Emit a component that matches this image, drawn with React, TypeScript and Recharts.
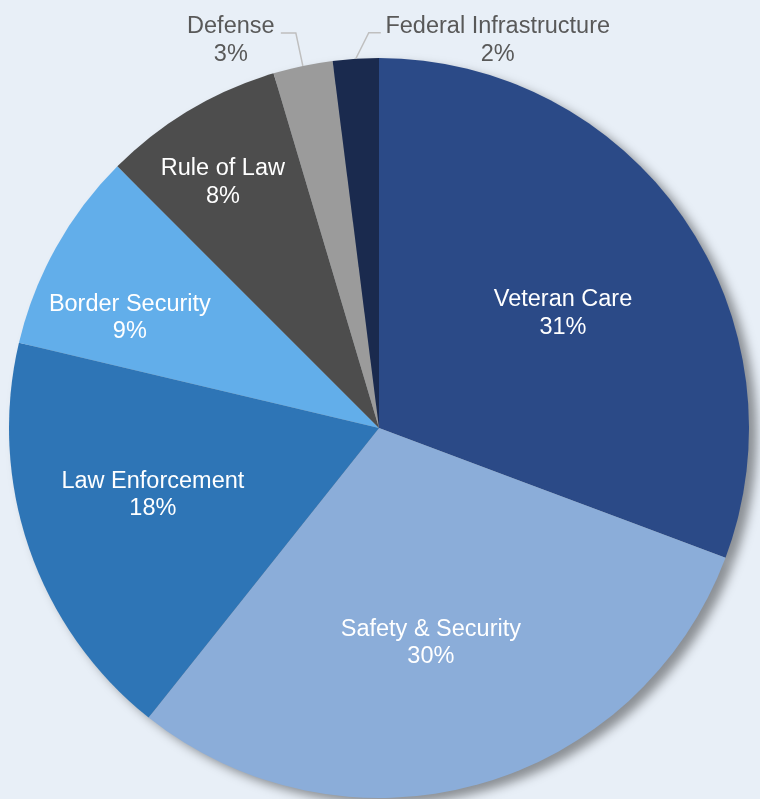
import { PieChart, Pie, Cell } from "recharts";

const categories = [
  "Veteran Care",
  "Safety & Security",
  "Law Enforcement",
  "Border Security",
  "Rule of Law",
  "Defense",
  "Federal Infrastructure",
];
const shares = [30.7, 30.0, 18.0, 8.8, 7.9, 2.6, 2.0];
const colors = ["#2B4A87", "#8BADD9", "#2E75B6", "#62AEEA", "#4D4D4D", "#9B9B9B", "#1A2A4E"];

const data = categories.map((name, i) => ({ name, value: shares[i] }));

const CX = 379;
const CY = 428;
const R = 370;
const FONT = "'Liberation Sans', Arial, sans-serif";
const FS = 23.5;
const RAD = Math.PI / 180;

// inside labels: radius factor + angle tweak (deg, clockwise)
const insideLayout: Record<number, { r: number; da: number }> = {
  0: { r: 0.588, da: 2.5 },
  1: { r: 0.593, da: 1.8 },
  2: { r: 0.636, da: 3.0 },
  3: { r: 0.738, da: -5.0 },
  4: { r: 0.79, da: -1.5 },
};
// outside labels: offsets from the edge point
const outsideLayout: Record<number, { lx: number; ly: number; ex: number; ey: number; tx: number; ty: number }> = {
  5: { lx: -72, ly: -27, ex: -7, ey: -33, tx: -22, ty: -33 },
  6: { lx: 142, ly: -20, ex: 13, ey: -26, tx: 25, ty: -26 },
};

function twoLines(x: number, y: number, a: string, b: string, fill: string) {
  return (
    <text x={x} textAnchor="middle" fill={fill} fontFamily={FONT} fontSize={FS}>
      <tspan x={x} y={y - 5.5}>{a}</tspan>
      <tspan x={x} y={y + 22}>{b}</tspan>
    </text>
  );
}

const renderLabel = (props: any) => {
  const { midAngle, index, name, percent } = props;
  const pct = `${Math.round(percent * 100)}%`;
  const inside = insideLayout[index];
  if (inside) {
    const a = (midAngle - inside.da) * RAD;
    const x = CX + R * inside.r * Math.cos(a);
    const y = CY - R * inside.r * Math.sin(a);
    return <g key={`l${index}`}>{twoLines(x, y, name, pct, "#FFFFFF")}</g>;
  }
  const o = outsideLayout[index];
  const a = midAngle * RAD;
  const px = CX + R * Math.cos(a);
  const py = CY - R * Math.sin(a);
  return (
    <g key={`l${index}`}>
      <polyline
        points={`${px},${py} ${px + o.ex},${py + o.ey} ${px + o.tx},${py + o.ty}`}
        fill="none"
        stroke="#BFBFBF"
        strokeWidth={1.5}
      />
      {twoLines(px + o.lx, py + o.ly, name, pct, "#595959")}
    </g>
  );
};

export default function App() {
  return (
    <div style={{ position: "absolute", left: 0, top: 0, width: 760, height: 799, background: "#E8EFF7", overflow: "hidden" }}>
      <svg width={0} height={0} style={{ position: "absolute" }}>
        <defs>
          <filter id="pieShadow" x="-10%" y="-10%" width="120%" height="120%">
            <feGaussianBlur stdDeviation="3.5" />
            <feOffset dx="4" dy="3" />
          </filter>
        </defs>
      </svg>
      <style>{".pie-shadow { filter: url(#pieShadow); }"}</style>
      <PieChart width={760} height={799} margin={{ top: 0, right: 0, bottom: 0, left: 0 }}>
        <Pie
          className="pie-shadow"
          data={data}
          dataKey="value"
          nameKey="name"
          cx={CX}
          cy={CY}
          outerRadius={R}
          startAngle={90}
          endAngle={-270}
          fill="#000000"
          fillOpacity={0.4}
          stroke="none"
          label={false}
          labelLine={false}
          isAnimationActive={false}
        />
        <Pie
          data={data}
          dataKey="value"
          nameKey="name"
          cx={CX}
          cy={CY}
          outerRadius={R}
          startAngle={90}
          endAngle={-270}
          stroke="none"
          label={renderLabel}
          labelLine={false}
          isAnimationActive={false}
        >
          {data.map((d, i) => (
            <Cell key={d.name} fill={colors[i]} />
          ))}
        </Pie>
      </PieChart>
    </div>
  );
}
